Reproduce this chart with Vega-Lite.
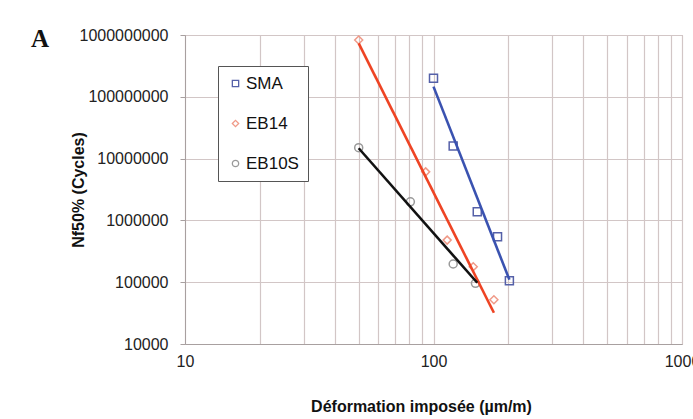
{
  "$schema": "https://vega.github.io/schema/vega-lite/v6.json",
  "width": 497,
  "height": 309,
  "autosize": {"type": "none"},
  "padding": {"left": 185, "top": 35, "right": 11, "bottom": 75},
  "background": "white",
  "title": {"text": "A", "anchor": "start", "frame": "group", "font": "Liberation Serif", "fontSize": 25, "fontWeight": "bold", "color": "#111", "baseline": "alphabetic", "offset": 0, "dx": -154, "dy": 45},
  "datasets": {
    "pts": [
      {"serie": "SMA", "x": 100, "y": 200000000},
      {"serie": "SMA", "x": 120, "y": 16000000},
      {"serie": "SMA", "x": 150, "y": 1380000},
      {"serie": "SMA", "x": 181, "y": 545000},
      {"serie": "SMA", "x": 202, "y": 106000},
      {"serie": "EB14", "x": 50, "y": 830000000},
      {"serie": "EB14", "x": 93, "y": 6100000},
      {"serie": "EB14", "x": 113.5, "y": 480000},
      {"serie": "EB14", "x": 144.5, "y": 178000},
      {"serie": "EB14", "x": 175, "y": 52000},
      {"serie": "EB10S", "x": 50, "y": 15000000},
      {"serie": "EB10S", "x": 80.7, "y": 2000000},
      {"serie": "EB10S", "x": 120, "y": 197000},
      {"serie": "EB10S", "x": 147.5, "y": 96000}
    ],
    "fits": [
      {"serie": "SMA", "x": 100, "y": 146000000},
      {"serie": "SMA", "x": 202, "y": 110000},
      {"serie": "EB14", "x": 50, "y": 730000000},
      {"serie": "EB14", "x": 175, "y": 32000},
      {"serie": "EB10S", "x": 50, "y": 14700000},
      {"serie": "EB10S", "x": 150, "y": 98000}
    ]
  },
  "config": {
    "view": {"stroke": "#b8b0b0", "strokeWidth": 1},
    "axis": {
      "labelFont": "Liberation Sans", "labelFontSize": 16, "labelColor": "#222",
      "titleFont": "Liberation Sans", "titleFontSize": 16, "titleFontWeight": "bold", "titleColor": "#111",
      "gridColor": "#d2c6c6", "gridWidth": 1.2, "gridOpacity": 1,
      "domainColor": "#a8a0a0", "tickColor": "#a8a0a0"
    },
    "legend": {"labelFont": "Liberation Sans", "labelFontSize": 17, "labelColor": "#111"}
  },
  "layer": [
    {
      "data": {"name": "pts"},
      "mark": {"type": "point", "filled": false, "strokeWidth": 1.5, "size": 64, "opacity": 1},
      "encoding": {
        "x": {"field": "x", "type": "quantitative",
          "scale": {"type": "log", "domain": [10, 1000], "nice": false},
          "axis": {"values": [10,20,30,40,50,60,70,80,90,100,200,300,400,500,600,700,800,900,1000],
            "format": "d", "labelExpr": "datum.value == 10 || datum.value == 100 || datum.value == 1000 ? datum.label : ''",
            "ticks": false, "labelPadding": 9, "labelFlush": false, "labelOverlap": false,
            "title": "Déformation imposée (µm/m)", "titleX": 236, "titleY": 67, "titleBaseline": "alphabetic"}},
        "y": {"field": "y", "type": "quantitative",
          "scale": {"type": "log", "domain": [10000, 1000000000], "nice": false},
          "axis": {"values": [10000, 100000, 1000000, 10000000, 100000000, 1000000000],
            "format": "d", "tickSize": 5, "labelPadding": 12, "labelFlush": false, "labelOverlap": false,
            "title": "Nf50% (Cycles)", "titleX": -102, "titleY": 154.5, "titleBaseline": "alphabetic", "titleAlign": "center", "titleAngle": -90}},
        "color": {"field": "serie", "type": "nominal",
          "scale": {"domain": ["SMA", "EB14", "EB10S"], "range": ["#5560a8", "#f09a88", "#9a9a9a"]},
          "legend": {"title": null, "orient": "none", "legendX": 33, "legendY": 31,
            "strokeColor": "#555", "fillColor": "white", "padding": 9, "rowPadding": 22,
            "symbolSize": 40, "symbolStrokeWidth": 1.3, "labelOffset": 2}},
        "shape": {"field": "serie", "type": "nominal",
          "scale": {"domain": ["SMA", "EB14", "EB10S"], "range": ["square", "diamond", "circle"]},
          "legend": {"title": null, "orient": "none", "legendX": 33, "legendY": 31,
            "strokeColor": "#555", "fillColor": "white", "padding": 9, "rowPadding": 22,
            "symbolSize": 40, "symbolStrokeWidth": 1.3, "labelOffset": 2}}
      }
    },
    {
      "data": {"name": "fits"},
      "mark": {"type": "line", "strokeWidth": 2.6},
      "encoding": {
        "x": {"field": "x", "type": "quantitative"},
        "y": {"field": "y", "type": "quantitative"},
        "stroke": {"field": "serie", "type": "nominal",
          "scale": {"domain": ["SMA", "EB14", "EB10S"], "range": ["#3a52b0", "#ee4424", "#111111"]},
          "legend": null}
      }
    }
  ]
}
